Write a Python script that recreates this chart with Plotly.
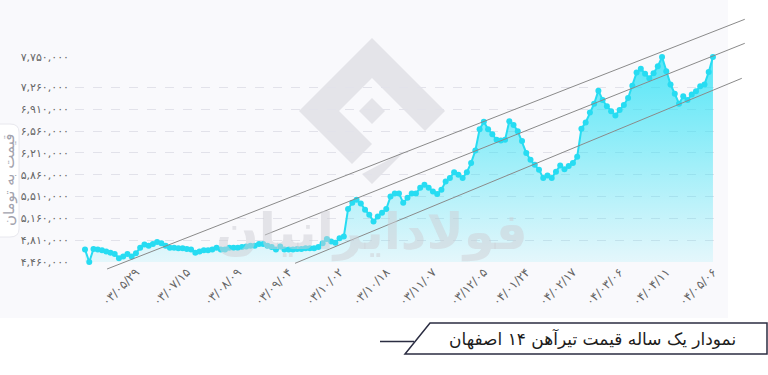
import plotly.graph_objects as go

# ---------------- data ----------------
PRICES = [
    4660000, 4460000, 4670000, 4660000, 4650000, 4630000, 4610000, 4590000, 4520000, 4550000,
    4590000, 4550000, 4600000, 4690000, 4740000, 4720000, 4750000, 4780000, 4760000, 4720000,
    4690000, 4690000, 4680000, 4680000, 4670000, 4660000, 4610000, 4630000, 4650000, 4650000,
    4660000, 4690000, 4660000, 4660000, 4690000, 4690000, 4690000, 4700000, 4710000, 4720000,
    4720000, 4750000, 4750000, 4720000, 4700000, 4660000, 4710000, 4660000, 4660000, 4660000,
    4670000, 4670000, 4680000, 4680000, 4680000, 4700000, 4760000, 4830000, 4790000, 4770000,
    4840000, 4870000, 5310000, 5410000, 5460000, 5400000, 5300000, 5220000, 5110000, 5190000,
    5250000, 5310000, 5510000, 5560000, 5560000, 5410000, 5490000, 5560000, 5560000, 5650000,
    5700000, 5650000, 5590000, 5550000, 5620000, 5750000, 5810000, 5900000, 5860000, 5810000,
    5900000, 6050000, 6250000, 6590000, 6710000, 6590000, 6510000, 6420000, 6410000, 6420000,
    6720000, 6660000, 6560000, 6400000, 6210000, 6100000, 6020000, 5940000, 5810000, 5850000,
    5810000, 5910000, 6010000, 5950000, 6000000, 6050000, 6150000, 6600000, 6700000, 6860000,
    7000000, 7210000, 7060000, 6960000, 6880000, 6810000, 6900000, 6980000, 7090000, 7290000,
    7500000, 7560000, 7480000, 7410000, 7490000, 7600000, 7750000, 7520000, 7310000, 7160000,
    7000000, 7120000, 7060000, 7150000, 7200000, 7280000, 7310000, 7510000, 7750000,
]
X_INDEX = list(range(len(PRICES)))

X_TICK_POS = [12, 24, 36, 48, 60, 71, 82, 94, 104, 115, 126, 137, 148]
X_TICK_LABELS = [
    "۰۳/۰۵/۲۹", "۰۳/۰۷/۱۵", "۰۳/۰۸/۰۹", "۰۳/۰۹/۰۴", "۰۳/۱۰/۰۲", "۰۳/۱۰/۱۸", "۰۳/۱۱/۰۷",
    "۰۳/۱۲/۰۵", "۰۴/۰۱/۲۴", "۰۴/۰۲/۱۷", "۰۴/۰۳/۰۶", "۰۴/۰۴/۱۱", "۰۴/۰۵/۰۶",
]
Y_TICK_VALUES = [4460000, 4810000, 5160000, 5510000, 5860000, 6210000, 6560000, 6910000, 7260000, 7750000]
Y_TICK_LABELS = [
    "۴,۴۶۰,۰۰۰", "۴,۸۱۰,۰۰۰", "۵,۱۶۰,۰۰۰", "۵,۵۱۰,۰۰۰", "۵,۸۶۰,۰۰۰",
    "۶,۲۱۰,۰۰۰", "۶,۵۶۰,۰۰۰", "۶,۹۱۰,۰۰۰", "۷,۲۶۰,۰۰۰", "۷,۷۵۰,۰۰۰",
]
# trend channel lines: (start index, start price, end index, end price)
TREND_LINES = [
    (5.2, 4347700, 155.5, 8355100),
    (42.4, 4893300, 155.5, 7969900),
    (49.5, 4439100, 154.8, 7408200),
]

TITLE = "نمودار یک ساله قیمت تیرآهن ۱۴ اصفهان"
Y_TITLE = "قیمت به تومان"
WATERMARK = "فولادایرانیان"

# ---------------- layout geometry ----------------
W, H = 768, 375
ML, MR, MT, MB = 75, 50, 57, 113
PW, PH = W - ML - MR, H - MT - MB
X_RANGE = [-2.36, 149.19]
Y_RANGE = [4460000, 7750000]
FONT = "DejaVu Sans"
LINE_COLOR = "#27dcf2"


def px(x):
    return (x - ML) / PW


def py(y):
    return (H - MB - y) / PH


def dx(i):
    return (i - X_RANGE[0]) / (X_RANGE[1] - X_RANGE[0])


def dy(v):
    return (v - Y_RANGE[0]) / (Y_RANGE[1] - Y_RANGE[0])


fig = go.Figure()
fig.add_trace(go.Scatter(
    x=X_INDEX, y=PRICES, mode="lines+markers",
    line=dict(color=LINE_COLOR, width=2),
    marker=dict(size=6, color=LINE_COLOR),
    fill="tozeroy",
    fillgradient=dict(type="vertical",
                      colorscale=[[0, "rgba(40,225,245,0.10)"], [1, "rgba(40,225,245,0.78)"]],
                      start=Y_RANGE[0], stop=Y_RANGE[1]),
    cliponaxis=False, hoverinfo="skip", showlegend=False,
))

shapes = []
# panel background
shapes.append(dict(type="rect", xref="paper", yref="paper", x0=px(0), x1=px(728), y0=py(318), y1=py(0),
                   fillcolor="#f9f9fc", line=dict(width=0), layer="below"))
# y title box
shapes.append(dict(type="path", xref="paper", yref="paper", layer="below",
                   path=(f"M {px(-10)},{py(124)} L {px(10)},{py(124)} Q {px(19)},{py(124)} {px(19)},{py(132)} "
                         f"L {px(19)},{py(229)} Q {px(19)},{py(237)} {px(10)},{py(237)} L {px(-10)},{py(237)} Z"),
                   fillcolor="#ffffff", line=dict(color="#e8e8ee", width=1)))
# logo watermark (approximate)
LOGO = "rgba(214,214,220,0.6)"
shapes.append(dict(type="path", xref="paper", yref="paper", layer="below",
                   path=(f"M {px(372)},{py(38)} L {px(445)},{py(111)} L {px(425)},{py(131)} L {px(372)},{py(78)} "
                         f"L {px(339)},{py(111)} L {px(372)},{py(144)} L {px(352)},{py(164)} L {px(299)},{py(111)} Z"),
                   fillcolor=LOGO, line=dict(width=0)))
shapes.append(dict(type="path", xref="paper", yref="paper", layer="below",
                   path=(f"M {px(372)},{py(98)} L {px(385)},{py(111)} L {px(372)},{py(124)} L {px(359)},{py(111)} Z"),
                   fillcolor=LOGO, line=dict(width=0)))
shapes.append(dict(type="path", xref="paper", yref="paper", layer="below",
                   path=(f"M {px(405)},{py(151)} L {px(425)},{py(131)} L {px(372)},{py(184)} L {px(362)},{py(174)} Z"),
                   fillcolor=LOGO, line=dict(width=0)))
# trend channel lines
for (i0, v0, i1, v1) in TREND_LINES:
    shapes.append(dict(type="line", xref="paper", yref="paper", x0=dx(i0), y0=dy(v0), x1=dx(i1), y1=dy(v1),
                       line=dict(color="#8a8a8a", width=1), layer="above"))
# bottom title frame
NAVY = "#2b2d42"
shapes.append(dict(type="path", xref="paper", yref="paper", layer="above",
                   path=(f"M {px(430)},{py(323)} L {px(767)},{py(323)} L {px(767)},{py(354)} "
                         f"L {px(405)},{py(354)} Z"),
                   fillcolor="#ffffff", line=dict(color=NAVY, width=1.5)))
shapes.append(dict(type="line", xref="paper", yref="paper", x0=px(380), x1=px(414), y0=py(341.5), y1=py(341.5),
                   line=dict(color=NAVY, width=1.5), layer="above"))

annotations = [
    dict(text=Y_TITLE, xref="paper", yref="paper", x=px(9), y=py(180), textangle=-90, showarrow=False,
         font=dict(family=FONT, size=15, color="#a3a3ae"), xanchor="center", yanchor="middle"),
    dict(text="<b>" + WATERMARK + "</b>", xref="paper", yref="paper", x=px(372), y=py(232), showarrow=False,
         font=dict(family=FONT, size=50, color="rgba(205,205,212,0.5)"), xanchor="center", yanchor="middle"),
    dict(text=TITLE, xref="paper", yref="paper", x=px(592), y=py(339), showarrow=False,
         font=dict(family=FONT, size=17, color="#1c1c1c"), xanchor="center", yanchor="middle"),
]

fig.update_layout(
    width=W, height=H, margin=dict(l=ML, r=MR, t=MT, b=MB, pad=0),
    paper_bgcolor="#ffffff", plot_bgcolor="rgba(0,0,0,0)",
    font=dict(family=FONT, color="#666"),
    shapes=shapes, annotations=annotations, showlegend=False,
    xaxis=dict(range=X_RANGE, tickmode="array", tickvals=X_TICK_POS, ticktext=X_TICK_LABELS,
               tickangle=-45, tickfont=dict(size=12, color="#666"), showgrid=False, zeroline=False,
               showline=False, ticks=""),
    yaxis=dict(range=Y_RANGE, tickmode="array", tickvals=Y_TICK_VALUES, ticktext=Y_TICK_LABELS,
               tickfont=dict(size=11, color="#666"), showgrid=True, gridcolor="#e2e2ea",
               griddash="dash", gridwidth=1, zeroline=False, showline=False, ticks="",
               ticklabelstandoff=5),
)

fig.write_html("out.html")
